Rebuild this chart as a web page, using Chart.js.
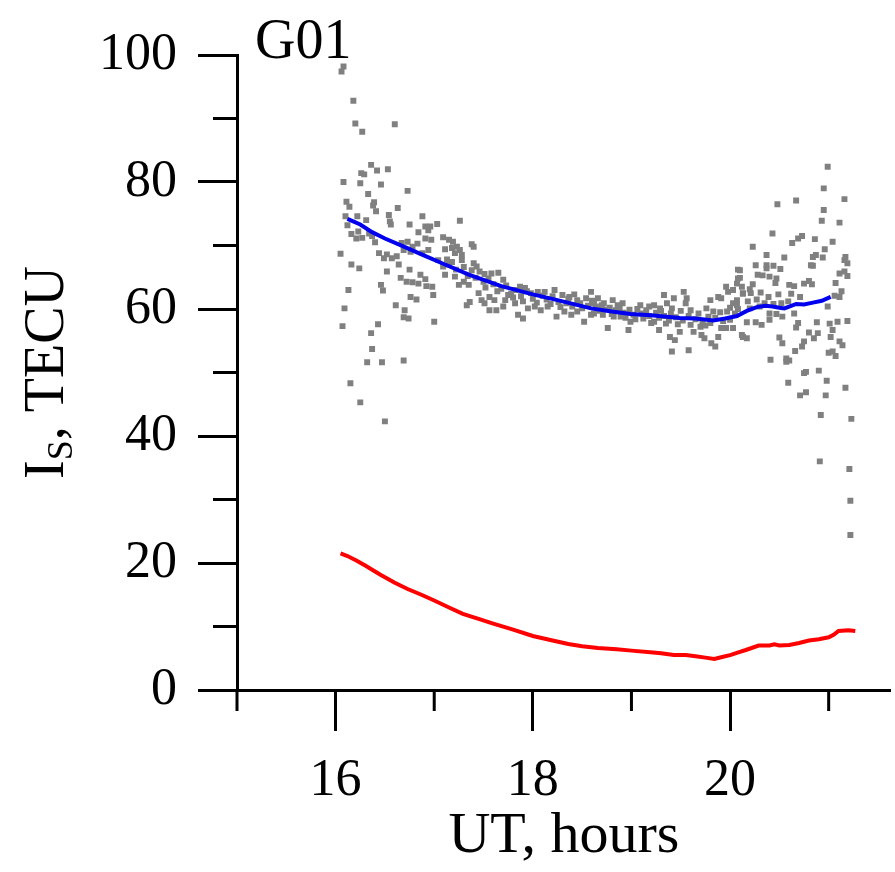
<!DOCTYPE html>
<html>
<head>
<meta charset="utf-8">
<script src="https://cdn.jsdelivr.net/npm/chart.js@4/dist/chart.umd.min.js"></script>
<style>
  html, body { margin: 0; padding: 0; background: #fff; }
  canvas { display: block; }
</style>
</head>
<body>
<canvas id="tecChart" width="895" height="872"></canvas>
<script>
// raw slant TEC samples (grey dots)
const scatterHours = [
  16.08, 16.06, 16.18, 16.20, 16.27, 16.60, 16.36, 16.26, 16.29, 16.42, 16.53, 16.08, 16.25, 16.46, 16.73, 16.33,
  16.11, 16.14, 16.39, 16.38, 16.41, 16.63, 16.10, 16.22, 16.31, 16.54, 16.55, 16.56, 16.88, 16.12, 16.75, 16.91,
  16.96, 17.03,
  16.16, 16.21, 16.27, 16.23, 16.34, 16.37, 16.40, 16.84, 16.94, 16.91, 16.97, 17.09, 17.11, 16.05, 16.16, 16.24,
  16.44, 16.49, 16.52, 16.57, 16.62, 16.64, 16.67, 16.73, 16.78, 16.83, 16.69, 16.76, 16.88, 16.94, 17.04, 17.09,
  16.52, 16.75, 16.66, 16.72, 16.78, 16.84, 16.91, 16.86, 16.92, 16.98, 16.46, 16.48, 16.13, 16.99, 16.76, 16.82,
  16.09, 16.61, 16.70, 16.69, 16.74, 16.07, 16.43, 17.00, 16.36, 16.37, 16.32, 16.47, 16.69, 16.15, 16.25, 16.50,
  17.26, 17.15, 17.19, 17.38, 17.40, 17.18, 17.23, 17.26, 17.21, 17.28, 17.13, 17.18, 17.28, 17.40, 17.43, 17.38,
  17.46, 17.51, 17.58, 17.65, 17.70, 17.55, 17.11, 17.21, 17.25, 17.35, 17.30, 17.45, 17.48, 17.56, 17.61, 17.72,
  17.75, 17.36, 17.33, 17.51, 17.56, 17.63, 17.70, 17.82, 17.87, 17.92, 17.98, 18.05, 17.82, 17.85, 17.90, 17.95,
  18.02, 18.08, 18.12, 18.22, 18.30, 18.37, 18.45, 18.59, 18.54, 18.15, 18.24, 18.32, 18.39, 18.45, 18.52, 18.59,
  18.62,
  18.66, 18.72, 18.81, 18.86, 18.91, 18.62, 18.71, 18.76, 18.82, 18.89, 18.97, 18.99, 19.09, 19.18, 19.23, 19.29,
  19.33, 19.36, 19.43, 19.41, 19.23, 19.28, 19.35, 19.39, 19.44, 19.41, 19.49, 19.53, 19.56, 19.55, 19.60, 19.58,
  19.63, 19.70, 19.71, 19.74, 19.76, 19.80, 19.83, 19.81, 19.85, 19.88, 19.91, 19.88, 19.91, 19.96, 19.98, 20.03,
  20.08, 20.10, 20.07, 20.13, 20.03, 20.00, 20.03, 20.13, 19.96,
  17.15, 17.22, 17.30, 17.34, 17.42, 17.50, 17.52, 17.60, 17.64, 17.68, 17.73, 17.78, 17.80, 17.88, 17.90, 17.94,
  18.00, 18.04, 18.10, 18.14, 18.18, 18.20, 18.26, 18.28, 18.34, 18.36, 18.40, 18.42, 18.48, 18.50, 18.56, 18.60,
  18.64, 18.68, 18.70, 18.74, 18.78, 18.80, 18.84, 18.88, 18.92, 18.94, 18.98, 19.02, 19.04, 19.06, 19.10, 19.12,
  19.15, 19.18, 19.20, 19.25, 19.28, 19.30, 19.33, 19.38, 19.40, 19.45, 19.47, 19.50, 19.52, 19.58, 19.60, 19.65,
  19.68, 19.72, 19.75, 19.78, 19.80, 19.85, 19.90, 19.93, 19.97, 20.00, 20.05,
  20.99, 20.95, 20.48, 20.67, 21.16, 20.95, 20.93, 21.11, 20.43, 20.69, 20.73, 20.63, 20.86, 21.04, 20.96, 20.23,
  20.37, 20.55, 20.84, 20.87, 20.94, 21.17, 21.19, 21.16, 20.26, 20.37, 20.37, 20.44, 20.51, 20.82, 20.84, 20.08,
  20.28, 20.33, 20.40, 20.47, 20.46, 21.11, 21.16, 21.19, 20.10, 20.07, 20.12, 20.23, 20.20, 20.60, 20.65, 20.75,
  20.80, 20.83, 21.07, 21.13, 21.11, 21.06, 20.13, 20.21, 20.31, 20.39, 20.49, 20.62, 20.71, 20.07, 20.18, 20.27,
  20.35, 20.44, 20.52, 20.59, 20.08, 20.20, 20.30, 20.40, 20.47, 20.53, 20.65, 20.99, 20.17, 20.26, 20.32, 20.40,
  20.69, 20.88, 21.01, 21.09, 21.19, 20.67, 20.80, 20.89, 21.04, 20.13, 20.17, 20.50, 20.53, 20.75, 20.85, 21.02,
  21.11, 21.14,
  20.66, 20.41, 20.57, 20.60, 20.57, 21.00, 21.04, 21.07, 20.77, 20.75, 20.90, 20.59, 20.98, 21.17, 20.71, 20.77,
  20.97, 20.92, 21.23, 20.91, 21.21, 21.22, 21.22, 20.73, 20.12
];
const scatterTec = [
  98.2, 97.4, 92.8, 89.2, 87.9, 89.1, 82.7, 81.4, 81.2, 81.8, 82.0, 80.0, 79.8, 79.6, 78.6, 78.1,
  76.9, 76.1, 76.8, 76.3, 75.4, 75.9, 74.6, 74.6, 74.0, 74.8, 73.8, 73.3, 74.6, 73.2, 73.3, 73.0,
  73.0, 73.4,
  71.8, 71.1, 71.2, 72.2, 71.9, 71.5, 70.5, 72.1, 72.4, 71.1, 70.9, 71.3, 69.4, 68.7, 67.0, 66.4,
  68.8, 68.0, 68.6, 68.0, 68.3, 67.0, 70.4, 70.6, 69.8, 70.3, 69.3, 69.0, 68.8, 69.3, 67.7, 66.7,
  65.9, 66.2, 64.9, 64.3, 64.2, 64.0, 64.7, 65.4, 63.6, 63.5, 63.8, 62.9, 63.0, 62.2, 61.9, 61.5,
  60.1, 60.6, 59.8, 58.7, 58.5, 57.3, 57.6, 58.0, 56.2, 53.7, 51.6, 51.6, 51.9, 48.3, 45.3, 42.3,
  73.9, 70.9, 70.6, 70.2, 69.8, 69.6, 69.8, 69.3, 68.8, 68.5, 67.8, 67.4, 67.7, 67.2, 66.7, 66.1,
  65.9, 65.5, 65.6, 65.7, 64.6, 64.8, 65.4, 65.1, 63.8, 63.8, 64.3, 62.5, 61.4, 61.9, 61.4, 61.4,
  62.2, 61.1, 60.6, 60.9, 59.8, 59.8, 60.4, 63.0, 63.5, 63.3, 62.5, 62.7, 60.9, 59.1, 58.5, 60.1,
  60.4, 59.8, 62.7, 63.0, 62.2, 61.9, 61.4, 62.7, 61.7, 60.4, 58.8, 59.6, 59.1, 59.6, 58.0, 59.1,
  60.9,
  61.7, 60.9, 61.4, 60.6, 60.9, 59.3, 59.1, 57.0, 58.8, 58.8, 56.7, 58.0, 60.6, 60.4, 60.6, 60.1,
  62.2, 60.9, 61.7, 60.1, 58.0, 56.7, 57.7, 55.6, 55.1, 53.3, 56.4, 62.7, 61.7, 60.9, 59.8, 53.5,
  56.4, 57.2, 55.9, 55.4, 60.1, 61.4, 59.6, 54.6, 54.1, 55.6, 57.0, 61.9, 61.7, 63.5, 62.7, 63.0,
  64.8, 66.1, 60.6, 62.5, 60.9, 58.3, 57.0, 55.6, 57.0,
  67.0, 66.2, 66.6, 65.2, 64.9, 64.3, 63.4, 63.9, 62.8, 63.2, 63.7, 62.4, 61.8, 62.0, 61.2, 62.8,
  61.6, 61.0, 62.1, 61.5, 60.8, 62.0, 61.1, 60.3, 60.9, 61.6, 60.4, 62.3, 60.9, 60.1, 60.5, 61.3,
  60.4, 59.7, 60.6, 59.9, 60.2, 59.2, 59.8, 60.1, 59.4, 58.6, 59.9, 59.1, 58.4, 60.0, 59.3, 58.5,
  59.8, 58.9, 57.8, 59.4, 58.6, 59.7, 58.9, 58.2, 59.3, 58.7, 57.6, 59.7, 58.2, 58.9, 57.5, 58.4,
  59.3, 58.0, 57.4, 58.8, 57.8, 58.6, 59.5, 58.1, 59.6, 60.2, 59.3,
  82.4, 79.0, 76.5, 77.1, 77.3, 75.6, 73.9, 73.6, 71.9, 71.1, 71.5, 70.4, 71.0, 70.6, 69.4, 69.8,
  68.5, 68.1, 68.2, 68.5, 68.1, 68.2, 67.2, 67.7, 66.9, 66.9, 66.4, 66.8, 66.3, 66.9, 66.8, 66.2,
  65.4, 65.3, 65.1, 64.8, 64.1, 65.6, 65.9, 65.2, 64.9, 64.0, 63.5, 63.9, 63.1, 63.8, 63.6, 64.0,
  64.4, 63.9, 64.1, 62.8, 61.9, 62.1, 62.4, 62.5, 62.6, 61.9, 62.3, 62.4, 61.9, 61.4, 61.2, 61.5,
  60.9, 60.8, 60.9, 61.2, 60.0, 60.1, 60.4, 59.3, 59.2, 58.8, 59.3, 60.4, 57.9, 57.9, 57.5, 58.3,
  57.8, 57.9, 57.7, 58.0, 58.1, 57.1, 56.3, 56.2, 56.7, 55.6, 55.4, 55.5, 54.6, 54.9, 55.4, 55.6,
  54.9, 54.3,
  53.4, 52.0, 52.2, 51.9, 51.7, 53.1, 53.3, 52.6, 50.1, 49.9, 50.3, 48.4, 48.7, 47.6, 46.4, 46.9,
  46.4, 43.3, 42.7, 36.0, 34.8, 29.8, 24.4, 54.1, 55.9
];

// smoothed curve (blue)
const blueHours = [16.12, 16.25, 16.37, 16.5, 16.71, 16.9, 17.08, 17.35, 17.68, 18.0, 18.25, 18.59, 18.8, 18.99, 19.2,
  19.49, 19.65, 19.83, 19.95, 20.07, 20.17, 20.27, 20.36, 20.43, 20.5, 20.55, 20.62, 20.67, 20.75, 20.84, 20.93, 21.02];
const blueTec = [74.2, 73.3, 72.1, 71.1, 69.7, 68.4, 67.2, 65.4, 63.6, 62.3, 61.4, 60.1, 59.6, 59.2, 59.0,
  58.6, 58.5, 58.2, 58.5, 58.9, 59.7, 60.3, 60.5, 60.4, 60.2, 60.1, 60.5, 60.8, 60.7, 61.0, 61.3, 61.9];

// red curve
const redHours = [16.05, 16.12, 16.21, 16.3, 16.45, 16.6, 16.73, 16.87, 17.0, 17.15, 17.29, 17.45, 17.59, 17.8, 18.0,
  18.2, 18.36, 18.5, 18.66, 18.85, 19.0, 19.22, 19.3, 19.43, 19.55, 19.65, 19.75, 19.84, 19.92, 20.0, 20.1, 20.16,
  20.29, 20.4, 20.45, 20.5, 20.6, 20.7, 20.8, 20.9, 21.0, 21.05, 21.1, 21.2, 21.27];
const redTec = [21.5, 21.1, 20.4, 19.6, 18.2, 16.9, 15.9, 15.0, 14.1, 13.0, 12.0, 11.2, 10.5, 9.5, 8.5,
  7.8, 7.25, 6.9, 6.6, 6.4, 6.2, 5.9, 5.8, 5.5, 5.5, 5.3, 5.1, 4.9, 5.2, 5.5, 6.0, 6.3,
  7.0, 7.0, 7.2, 7.0, 7.1, 7.4, 7.8, 8.0, 8.3, 8.7, 9.3, 9.4, 9.3];

const xTickLabels = [16, 18, 20];
const yTickLabels = [0, 20, 40, 60, 80, 100];

const serif = "'Liberation Serif', 'Times New Roman', serif";

function toPoints(xs, ys) {
  return xs.map((x, i) => ({ x: x, y: ys[i] }));
}

// minor ticks, y-axis title with subscript and the satellite label
const extrasPlugin = {
  id: "extras",
  afterDraw(chart) {
    const ctx = chart.ctx;
    const xs = chart.scales.x;
    const ys = chart.scales.y;
    const area = chart.chartArea;
    ctx.save();
    ctx.strokeStyle = "#000";
    ctx.lineWidth = 3;
    ctx.beginPath();
    ys.ticks.forEach((t) => {
      if (yTickLabels.includes(t.value)) return;
      const py = ys.getPixelForValue(t.value);
      ctx.moveTo(area.left - 24, py);
      ctx.lineTo(area.left, py);
    });
    xs.ticks.forEach((t) => {
      if (xTickLabels.includes(t.value)) return;
      const px = xs.getPixelForValue(t.value);
      ctx.moveTo(px, area.bottom);
      ctx.lineTo(px, area.bottom + 21);
    });
    ctx.stroke();

    ctx.fillStyle = "#000";
    ctx.textBaseline = "alphabetic";
    ctx.textAlign = "left";
    ctx.font = "56px " + serif;
    ctx.fillText("G01", area.left + 18, area.top + 3);

    // I_S, TECU
    const big = "56px " + serif;
    const small = "36px " + serif;
    ctx.translate(63, (area.top + area.bottom) / 2);
    ctx.rotate(-Math.PI / 2);
    ctx.font = big;
    const wI = ctx.measureText("I").width;
    const wRest = ctx.measureText(", TECU").width;
    ctx.font = small;
    const wS = ctx.measureText("S").width;
    let x = -(wI + wS + wRest) / 2;
    ctx.font = big;
    ctx.fillText("I", x, 0);
    x += wI;
    ctx.font = small;
    ctx.fillText("S", x, 9);
    x += wS;
    ctx.font = big;
    ctx.fillText(", TECU", x, 0);
    ctx.restore();
  },
};

const tecCtx = document.getElementById("tecChart").getContext("2d");
const tecChart = new Chart(tecCtx, {
  type: "scatter",
  data: {
    datasets: [
      {
        label: "smoothed",
        data: toPoints(blueHours, blueTec),
        showLine: true,
        borderColor: "#0000ee",
        borderWidth: 4,
        pointRadius: 0,
        fill: false,
        order: 0,
      },
      {
        label: "red",
        data: toPoints(redHours, redTec),
        showLine: true,
        borderColor: "#ff0000",
        borderWidth: 4,
        pointRadius: 0,
        fill: false,
        order: 1,
      },
      {
        label: "samples",
        data: toPoints(scatterHours, scatterTec),
        pointStyle: "rect",
        pointRadius: 4.2,
        pointBorderWidth: 0,
        backgroundColor: "#808080",
        borderColor: "#808080",
        order: 2,
      },
    ],
  },
  options: {
    responsive: false,
    animation: false,
    devicePixelRatio: 1,
    layout: { padding: { top: 55, right: 0, bottom: 0, left: 0 } },
    plugins: {
      legend: { display: false },
      tooltip: { enabled: false },
    },
    scales: {
      x: {
        type: "linear",
        min: 15,
        max: 21.63,
        afterFit: (scale) => {
          scale.height = 182;
        },
        border: { display: true, color: "#000", width: 3 },
        grid: {
          drawOnChartArea: false,
          drawTicks: true,
          tickLength: 41,
          tickWidth: 3,
          tickColor: (c) => (c.tick && xTickLabels.includes(c.tick.value) ? "#000" : "rgba(0,0,0,0)"),
        },
        ticks: {
          stepSize: 1,
          includeBounds: false,
          autoSkip: false,
          maxRotation: 0,
          padding: 19,
          color: "#000",
          font: { family: serif, size: 52 },
          callback: (v) => (xTickLabels.includes(v) ? String(v) : ""),
        },
        title: {
          display: true,
          text: "UT, hours",
          color: "#000",
          font: { family: serif, size: 58 },
          padding: { top: 0, bottom: 0 },
        },
      },
      y: {
        type: "linear",
        min: 0,
        max: 100,
        afterFit: (scale) => {
          scale.width = 237;
        },
        border: { display: true, color: "#000", width: 3 },
        grid: {
          drawOnChartArea: false,
          drawTicks: true,
          tickLength: 39,
          tickWidth: 3,
          tickColor: (c) => (c.tick && yTickLabels.includes(c.tick.value) ? "#000" : "rgba(0,0,0,0)"),
        },
        ticks: {
          stepSize: 10,
          autoSkip: false,
          padding: 21,
          color: "#000",
          font: { family: serif, size: 52 },
          callback: (v) => (yTickLabels.includes(v) ? String(v) : ""),
        },
      },
    },
  },
  plugins: [extrasPlugin],
});
</script>
</body>
</html>
